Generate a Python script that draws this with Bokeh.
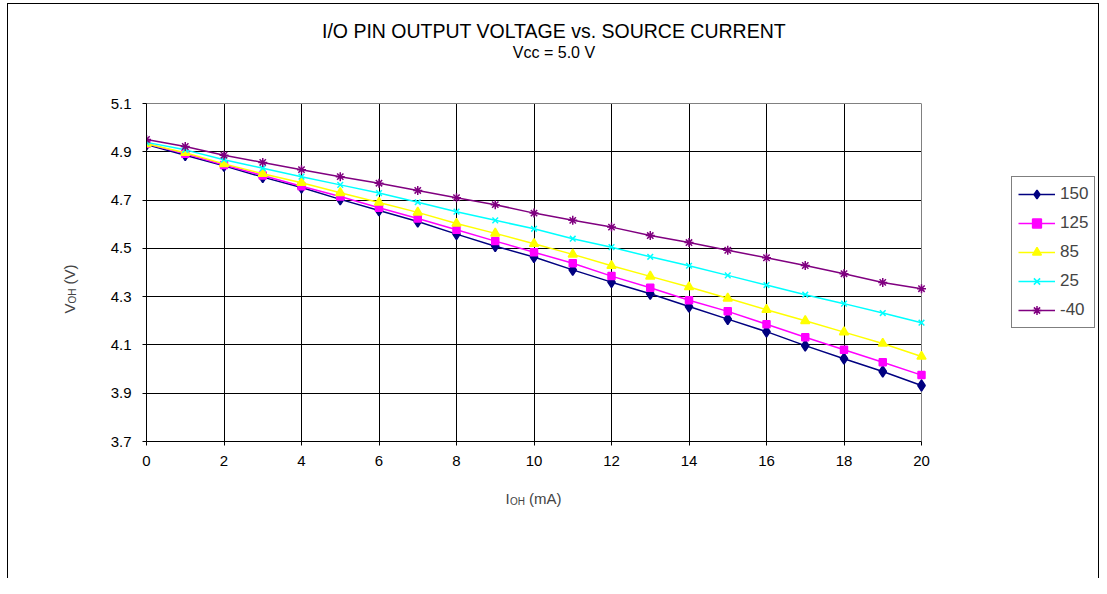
import math
from bokeh.plotting import figure
from bokeh.models import (Range1d, FixedTicker, Legend, LegendItem, Label, Grid, LinearAxis,
                          PrintfTickFormatter)
from bokeh.embed import file_html
from bokeh.resources import INLINE

FONT = "Liberation Sans"

# ---------------- data ----------------
current_ma = [0, 1, 2, 3, 4, 5, 6, 7, 8, 9, 10, 11, 12, 13, 14, 15, 16, 17, 18, 19, 20]
voh_150 = [4.930, 4.886, 4.842, 4.795, 4.752, 4.703, 4.657, 4.611, 4.559, 4.509, 4.464,
           4.411, 4.360, 4.312, 4.259, 4.207, 4.155, 4.097, 4.043, 3.990, 3.932]
voh_125 = [4.933, 4.892, 4.845, 4.802, 4.757, 4.715, 4.668, 4.624, 4.577, 4.530, 4.484,
           4.438, 4.385, 4.337, 4.285, 4.239, 4.186, 4.132, 4.080, 4.028, 3.975]
voh_85 = [4.933, 4.896, 4.850, 4.809, 4.772, 4.730, 4.690, 4.649, 4.603, 4.562, 4.519,
          4.475, 4.428, 4.384, 4.340, 4.293, 4.246, 4.200, 4.153, 4.106, 4.052]
voh_25 = [4.939, 4.908, 4.867, 4.832, 4.797, 4.763, 4.729, 4.691, 4.652, 4.616, 4.581,
          4.540, 4.505, 4.465, 4.428, 4.388, 4.348, 4.308, 4.271, 4.232, 4.192]
voh_m40 = [4.951, 4.922, 4.886, 4.856, 4.826, 4.797, 4.770, 4.740, 4.710, 4.681, 4.646,
           4.616, 4.588, 4.553, 4.524, 4.492, 4.461, 4.429, 4.395, 4.359, 4.333]

series_names = ["150", "125", "85", "25", "-40"]
series_values = [voh_150, voh_125, voh_85, voh_25, voh_m40]

x_ticks = [0, 2, 4, 6, 8, 10, 12, 14, 16, 18, 20]
y_ticks = [3.7, 3.9, 4.1, 4.3, 4.5, 4.7, 4.9, 5.1]

title_text = "I/O PIN OUTPUT VOLTAGE vs. SOURCE CURRENT"
subtitle_text = "Vcc = 5.0 V"

# ---------------- styles ----------------
colors = ["#000080", "#FF00FF", "#FFFF00", "#00FFFF", "#800080"]
markers = ["diamond", "square", "triangle", "x", "asterisk"]
marker_sizes = [11, 7, 9, 8, 9]

# target positions (picture px)
PA_L, PA_R, PA_T, PA_B = 146, 921, 103, 441      # plot area
FRAME_R = 1096                                   # frame extended to hold the legend
EL_X, EL_Y = 7, 3                                # chart element top-left
CX0, CY0 = EL_X + 1, EL_Y + 1                    # canvas origin (1px border)

X0, X1 = 0, 20
Y0, Y1 = 3.7, 5.1
XPX = (PA_R - PA_L) / (X1 - X0)
X1E = X0 + (FRAME_R - PA_L) / XPX

W, H = 1092, 575
FL = PA_L - CX0
FT = PA_T - CY0
FB = PA_B - CY0
FR = FRAME_R - CX0

p = figure(width=W, height=H, output_backend="svg", toolbar_location=None, title=None,
           x_range=Range1d(X0, X1E), y_range=Range1d(Y0, Y1),
           min_border_left=FL, min_border_top=FT,
           min_border_right=W - FR, min_border_bottom=H - FB,
           margin=(EL_Y, 0, 0, EL_X),
           styles={"border-left": "1px solid black", "border-top": "1px solid black",
                   "border-right": "1px solid black"})
p.background_fill_color = "white"
p.border_fill_color = "white"
p.outline_line_color = None

bottom_axis = p.below[0]
left_axis = p.left[0]

def dx(px):
    return X0 + (px - PA_L) / XPX

def dy(py):
    return Y0 + (PA_B - py) * (Y1 - Y0) / (PA_B - PA_T)

# axes
bottom_axis.ticker = FixedTicker(ticks=x_ticks)
bottom_axis.bounds = (X0, X1)
left_axis.ticker = FixedTicker(ticks=y_ticks)
left_axis.formatter = PrintfTickFormatter(format="%.1f")
for ax in (bottom_axis, left_axis):
    ax.axis_line_color = "black"
    ax.major_tick_line_color = "black"
    ax.major_tick_in = 0
    ax.major_tick_out = 4
    ax.minor_tick_line_color = None
    ax.major_label_text_font = FONT
    ax.major_label_text_font_size = "15px"
    ax.major_label_text_color = "black"
    ax.axis_label = None
left_axis.major_label_standoff = 11
bottom_axis.major_label_standoff = 10

# grid lines inside the plot area only
p.xgrid.ticker = FixedTicker(ticks=x_ticks[1:-1])
p.xgrid.grid_line_color = "black"
p.xgrid.grid_line_width = 1
inner_y = y_ticks[1:-1]
if "cross_bounds" in Grid.properties():
    p.ygrid.ticker = FixedTicker(ticks=inner_y)
    p.ygrid.cross_bounds = (X0, X1)
    p.ygrid.grid_line_color = "black"
    p.ygrid.grid_line_width = 1
else:
    p.ygrid.visible = False
    p.segment(x0=[X0] * len(inner_y), y0=inner_y, x1=[X1] * len(inner_y), y1=inner_y,
              line_color="black", line_width=1)

# grey plot-area border (right and top)
p.add_layout(Grid(dimension=0, ticker=FixedTicker(ticks=[X1]), grid_line_color="#808080",
                  grid_line_width=1))
top_axis = LinearAxis(ticker=FixedTicker(ticks=[]), bounds=(X0, X1), axis_line_color="#808080",
                      major_tick_line_color=None, minor_tick_line_color=None,
                      major_label_text_font_size="0px")
p.add_layout(top_axis, "above")

# series
items = []
for name, vals, col, mk, ms in zip(series_names, series_values, colors, markers, marker_sizes):
    lr = p.line(current_ma, vals, line_color=col, line_width=1.5)
    sr = p.scatter(current_ma, vals, marker=mk, size=ms, fill_color=col, line_color=col, line_width=1.5)
    items.append(LegendItem(label=name, renderers=[lr, sr]))

legend = Legend(items=items, location=(1011 - PA_L, PA_B - 328))
legend.border_line_color = "black"
legend.border_line_width = 1
legend.background_fill_color = "white"
legend.background_fill_alpha = 1
legend.label_text_font = FONT
legend.label_text_font_size = "17px"
legend.glyph_width = 37
legend.glyph_height = 22
legend.label_height = 22
legend.label_standoff = 5
legend.spacing = 7
legend.padding = 6
legend.margin = 0
p.add_layout(legend)

# titles
p.add_layout(Label(x=dx(553.5), y=dy(30), text=title_text, text_align="center",
                   text_baseline="middle", text_font=FONT, text_font_size="19.5px",
                   text_color="black"), "above")
p.add_layout(Label(x=dx(553.5), y=dy(52), text=subtitle_text, text_align="center",
                   text_baseline="middle", text_font=FONT, text_font_size="16px",
                   text_color="black"), "above")

# x axis label: I_OH (mA)
xb = 498
p.add_layout(Label(x=dx(505), y=dy(xb), text="I", text_align="left", text_baseline="alphabetic",
                   text_font=FONT, text_font_size="15px"), "below")
p.add_layout(Label(x=dx(509.5), y=dy(xb + 3), text="OH", text_align="left", text_baseline="alphabetic",
                   text_font=FONT, text_font_size="10px"), "below")
p.add_layout(Label(x=dx(528.5), y=dy(xb), text="(mA)", text_align="left", text_baseline="alphabetic",
                   text_font=FONT, text_font_size="15px"), "below")

# y axis label: V_OH (V), rotated
yb = 68.5
ang = math.pi / 2
p.add_layout(Label(x=dx(yb), y=dy(313), text="V", angle=ang, text_align="left",
                   text_baseline="alphabetic", text_font=FONT, text_font_size="15px"), "left")
p.add_layout(Label(x=dx(yb + 3), y=dy(303), text="OH", angle=ang, text_align="left",
                   text_baseline="alphabetic", text_font=FONT, text_font_size="10px"), "left")
p.add_layout(Label(x=dx(yb), y=dy(284), text="(V)", angle=ang, text_align="left",
                   text_baseline="alphabetic", text_font=FONT, text_font_size="15px"), "left")

open("out.html", "w").write(file_html(p, INLINE))
